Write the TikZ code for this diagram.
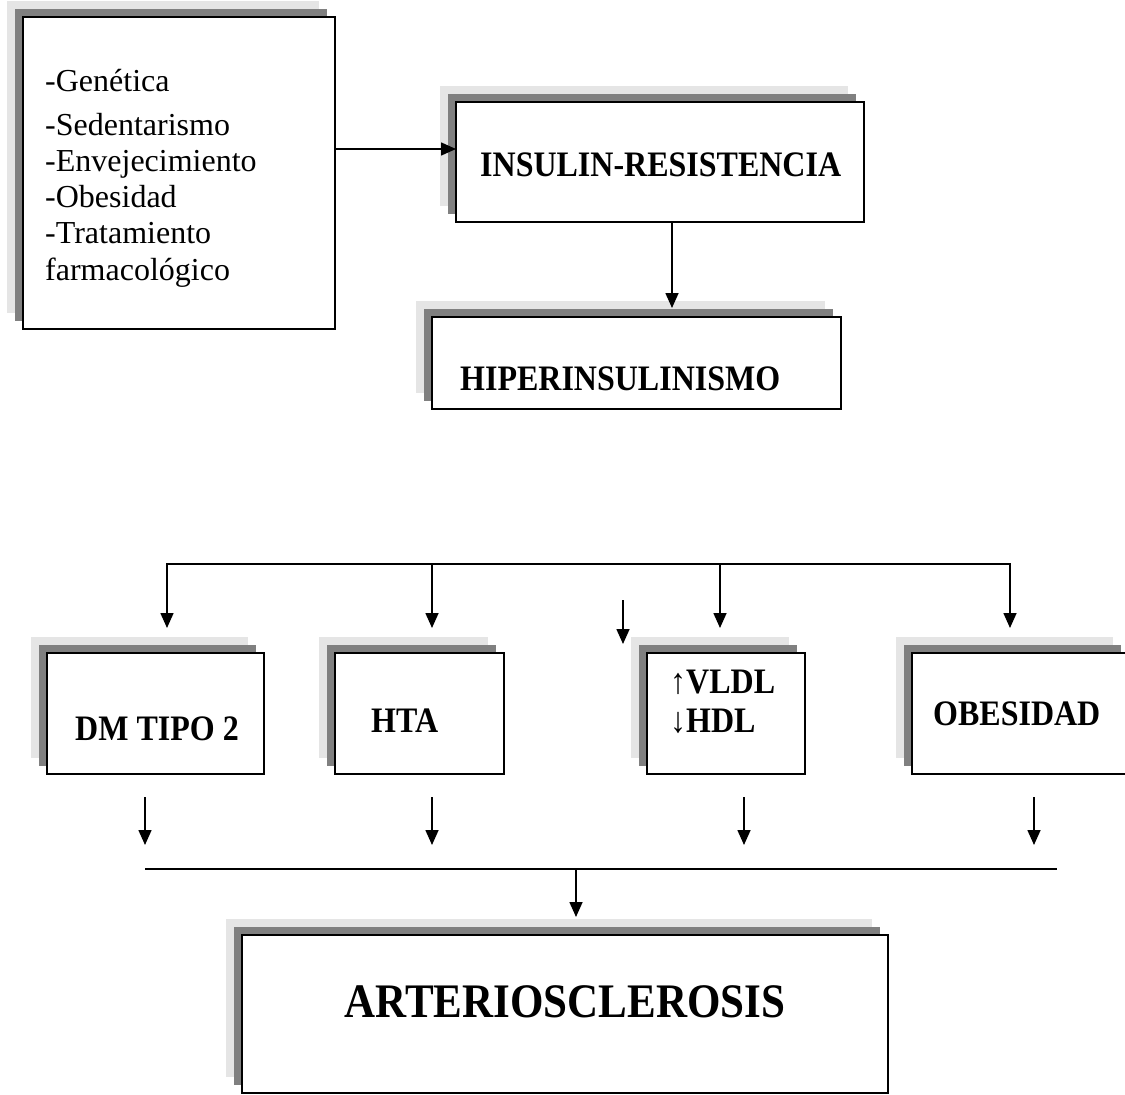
\documentclass[tikz,border=0pt]{standalone}
\usepackage{fontspec}
\setmainfont{Liberation Serif}
\usetikzlibrary{arrows.meta}
\tikzset{
  shlight/.style={fill=black!10},
  shdark/.style={fill=black!50},
  mainbox/.style={draw=black, line width=1.8pt, fill=white, rectangle, inner sep=0pt, outer sep=0pt, anchor=north west},
  conn/.style={line width=1.6pt, -{Triangle[length=15pt,width=13pt]}},
  plainline/.style={line width=1.6pt, line cap=rect},
  lbl/.style={font=\bfseries\fontsize{32}{36}\selectfont, inner sep=0pt, anchor=base west},
  txt/.style={font=\fontsize{32}{36}\selectfont, inner sep=0pt, anchor=base west},
}
\newcommand{\tallt}[1]{\scalebox{1}[1.12]{#1}}
\newcommand{\drawshbox}[5]{% name, x, y, w, h
  \fill[shlight] (#2-16,#3-16) rectangle ++(#4,#5);
  \fill[shdark] (#2-8,#3-8) rectangle ++(#4,#5);
  \node[mainbox, minimum width=#4pt, minimum height=#5pt] (#1) at (#2,#3) {};
}
\begin{document}
\begin{tikzpicture}[x=1pt,y=-1pt]
\useasboundingbox (0,0) rectangle (1125,1095);

% boxes
\drawshbox{box1}{23}{17}{312}{312}
\drawshbox{ins}{456}{102}{408}{120}
\drawshbox{hip}{432}{317}{409}{92}
\drawshbox{dm}{47}{653}{217}{121}
\drawshbox{hta}{335}{653}{169}{121}
\drawshbox{vldl}{647}{653}{158}{121}
\drawshbox{obe}{912}{653}{217}{121}
\drawshbox{art}{242}{935}{646}{158}

% texts
\node[txt] (g1) at (45,91) {-Genética};
\node[txt] (g2) at (45,135) {-Sedentarismo};
\node[txt] (g3) at (45,171) {-Envejecimiento};
\node[txt] (g4) at (45,207) {-Obesidad};
\node[txt] (g5) at (45,243) {-Tratamiento};
\node[txt] (g6) at (45,280) {farmacológico};

\node[lbl] (tins) at (480,176) {\tallt{INSULIN-RESISTENCIA}};
\node[lbl] (thip) at (460,390) {\tallt{HIPERINSULINISMO}};
\node[lbl] (tdm) at (75,740) {\tallt{DM TIPO 2}};
\node[lbl] (thta) at (371,732) {\tallt{HTA}};
\node[lbl] (tv1) at (670,693) {\tallt{\mdseries ↑\bfseries VLDL}};
\node[lbl] (tv2) at (670,732) {\tallt{\mdseries ↓\bfseries HDL}};
\node[lbl] (tobe) at (933,725) {\tallt{OBESIDAD}};
\node[font=\bfseries\fontsize{43}{48}\selectfont, inner sep=0pt, anchor=base] (tart) at (565,1017) {\tallt{ARTERIOSCLEROSIS}};

% connectors top
\coordinate (a1) at ([yshift=-132pt]box1.north east);
\draw[conn] (a1) -- (a1 -| ins.west);
\draw[conn, shorten >=9pt] ([xshift=12pt]ins.south) -- ([xshift=12pt]ins.south |- hip.north);

% fan
\coordinate (t1) at (167,564);
\coordinate (t2) at (432,564);
\coordinate (t3) at (720,564);
\coordinate (t4) at (1010,564);
\draw[plainline] (t1) -- (t4);
\draw[conn, shorten >=25pt] (t1) -- (t1 |- dm.north);
\draw[conn, shorten >=25pt] (t2) -- (t2 |- hta.north);
\draw[conn, shorten >=25pt] (t3) -- (t3 |- vldl.north);
\draw[conn, shorten >=25pt] (t4) -- (t4 |- obe.north);
\coordinate (s1) at (623,600);
\draw[conn, shorten >=9pt] (s1) -- (s1 |- vldl.north);

% bottom
\coordinate (b1) at (145,797);
\coordinate (b2) at (432,797);
\coordinate (b3) at (744,797);
\coordinate (b4) at (1034,797);
\coordinate (lb) at (145,869);
\coordinate (rb) at (1057,869);
\draw[conn, shorten >=24pt] (b1) -- (b1 |- lb);
\draw[conn, shorten >=24pt] (b2) -- (b2 |- lb);
\draw[conn, shorten >=24pt] (b3) -- (b3 |- lb);
\draw[conn, shorten >=24pt] (b4) -- (b4 |- lb);
\draw[line width=2pt] (lb) -- (rb);
\coordinate (c1) at (576,869);
\draw[conn, shorten >=18pt] (c1) -- (c1 |- art.north);
\end{tikzpicture}
\end{document}
